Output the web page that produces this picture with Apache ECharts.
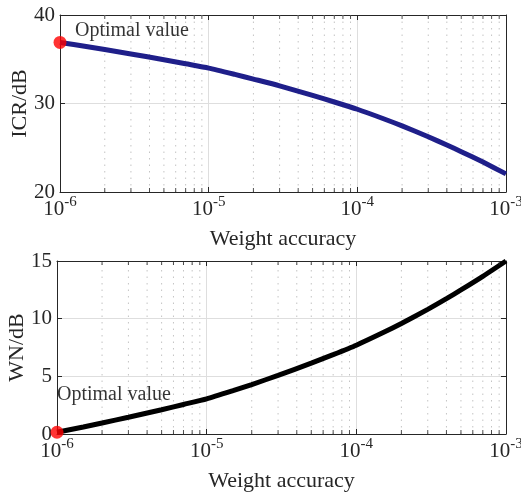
<!DOCTYPE html>
<html><head><meta charset="utf-8">
<script src="https://cdn.jsdelivr.net/npm/echarts@6/dist/echarts.min.js"></script>
<style>html,body{margin:0;padding:0;background:#fff}#c{width:521px;height:497px}</style>
</head><body><div id="c"></div>
<script>
// ---- data ----
const accuracy = [1e-6,1.5e-6,2e-6,3e-6,5e-6,7e-6,1e-5,1.5e-5,2e-5,3e-5,5e-5,7e-5,1e-4,1.5e-4,2e-4,3e-4,4e-4,5e-4,7e-4,1e-3];
const icrDb = [36.9,36.44,36.1,35.6,34.95,34.49,34.0,33.29,32.76,32.0,30.91,30.17,29.35,28.28,27.47,26.24,25.31,24.56,23.38,22.05];
const wnDb  = [0.15,0.61,0.95,1.45,2.10,2.56,3.05,3.76,4.29,5.08,6.14,6.88,7.7,8.77,9.58,10.81,11.74,12.49,13.67,15.0];
const optimalX = 1e-6;
const optimalIcr = 36.9;
const optimalWn = 0.15;
const optimalLabel = 'Optimal value';
const xRange = [1e-6, 1e-3];
const icrTicks = [20, 30, 40];
const wnTicks = [0, 5, 10, 15];
const minorX = [2e-6,3e-6,4e-6,5e-6,6e-6,7e-6,8e-6,9e-6,
                2e-5,3e-5,4e-5,5e-5,6e-5,7e-5,8e-5,9e-5,
                2e-4,3e-4,4e-4,5e-4,6e-4,7e-4,8e-4,9e-4];
const xName = 'Weight accuracy';
const icrName = 'ICR/dB';
const wnName = 'WN/dB';

// ---- styling ----
const FONT = 'Liberation Serif';
const AX = '#262626';
const GRIDC = '#dedede';

function xLabel(v) {
  const e = Math.round(Math.log10(v));
  return '{b|10}{s|' + e + '}';
}
const richX = {
  b: {fontFamily: FONT, fontSize: 21, color: AX, lineHeight: 22, verticalAlign: 'bottom'},
  s: {fontFamily: FONT, fontSize: 15, color: AX, lineHeight: 15, padding: [0,0,10,0], verticalAlign: 'bottom'}
};

function mkX(gi, isBottom) {
  return {
    type: 'log', logBase: 10, gridIndex: gi, min: xRange[0], max: xRange[1],
    position: isBottom ? 'bottom' : 'top',
    name: isBottom ? xName : '', nameLocation: 'middle', nameGap: 36,
    nameTextStyle: {fontFamily: FONT, fontSize: 22, color: AX},
    axisLine: {show: true, onZero: false, lineStyle: {color: AX, width: 1}},
    axisTick: {show: true, inside: true, length: 5, lineStyle: {color: AX}},
    axisLabel: {show: isBottom, formatter: xLabel, rich: richX, margin: 6},
    splitLine: {show: isBottom, lineStyle: {color: GRIDC, width: 1}}
  };
}
function mkY(gi, isLeft, ticks, name) {
  const iv = ticks[1] - ticks[0];
  return {
    type: 'value', gridIndex: gi, min: ticks[0], max: ticks[ticks.length-1], interval: iv,
    position: isLeft ? 'left' : 'right',
    name: isLeft ? name : '', nameLocation: 'middle', nameGap: 29, nameRotate: 90,
    nameMoveOverlap: false,
    nameTextStyle: {fontFamily: FONT, fontSize: 22, color: AX},
    axisLine: {show: true, onZero: false, lineStyle: {color: AX, width: 1}},
    axisTick: {show: true, inside: true, length: 5, lineStyle: {color: AX}},
    axisLabel: {show: isLeft, fontFamily: FONT, fontSize: 21, color: AX, margin: 5},
    splitLine: {show: isLeft, lineStyle: {color: GRIDC, width: 1}}
  };
}
// dotted minor grid lines at 2..9 x 10^k, drawn as broken vertical segments
function minorGridSeries(xi, yi, ticks) {
  const lo = ticks[0], hi = ticks[ticks.length-1];
  const d = [];
  minorX.forEach(v => { d.push([v, lo]); d.push([v, hi]); d.push([v, '-']); });
  return {
    type: 'line', xAxisIndex: xi, yAxisIndex: yi, silent: true, z: 1,
    showSymbol: false, connectNulls: false,
    lineStyle: {color: '#c4c4c4', width: 1, type: [1.5, 5]},
    data: d
  };
}
function minorTickSeries(xi, yi, yVal, dir) {
  return {
    type: 'scatter', xAxisIndex: xi, yAxisIndex: yi, silent: true, z: 4,
    symbol: 'rect', symbolSize: [1, 4], symbolOffset: [0, dir * 2],
    itemStyle: {color: AX}, clip: false,
    data: minorX.map(v => [v, yVal])
  };
}

const chart = echarts.init(document.getElementById('c'), null, {renderer: 'canvas'});
chart.setOption({
  animation: false,
  backgroundColor: '#fff',
  grid: [
    {left: 60, top: 15, width: 446, height: 177, show: false, containLabel: false, outerBoundsMode: 'none'},
    {left: 57, top: 261, width: 449, height: 173, show: false, containLabel: false, outerBoundsMode: 'none'}
  ],
  xAxis: [mkX(0, true), mkX(0, false), mkX(1, true), mkX(1, false)],
  yAxis: [mkY(0, true, icrTicks, icrName), mkY(0, false, icrTicks, ''),
          mkY(1, true, wnTicks, wnName), mkY(1, false, wnTicks, '')],
  series: [
    minorGridSeries(0, 0, icrTicks),
    minorGridSeries(2, 2, wnTicks),
    minorTickSeries(0, 0, icrTicks[0], -1),
    minorTickSeries(0, 0, icrTicks[icrTicks.length-1], 1),
    minorTickSeries(2, 2, wnTicks[0], -1),
    minorTickSeries(2, 2, wnTicks[wnTicks.length-1], 1),
    {
      type: 'line', xAxisIndex: 0, yAxisIndex: 0, z: 3, showSymbol: false, smooth: 0.2,
      lineStyle: {color: '#1f1f8a', width: 5},
      data: accuracy.map((x, i) => [x, icrDb[i]])
    },
    {
      type: 'line', xAxisIndex: 2, yAxisIndex: 2, z: 3, showSymbol: false, smooth: 0.2,
      lineStyle: {color: '#000000', width: 5},
      data: accuracy.map((x, i) => [x, wnDb[i]])
    },
    {
      type: 'scatter', xAxisIndex: 0, yAxisIndex: 0, z: 5, clip: false,
      symbol: 'circle', symbolSize: 13, itemStyle: {color: '#ff0000'},
      label: {show: true, position: 'inside', align: 'left', verticalAlign: 'middle',
              offset: [15, -12], formatter: optimalLabel,
              fontFamily: FONT, fontSize: 20, color: '#000'},
      data: [[optimalX, optimalIcr]]
    },
    {
      type: 'scatter', xAxisIndex: 2, yAxisIndex: 2, z: 5, clip: false,
      symbol: 'circle', symbolSize: 13, itemStyle: {color: '#ff0000'},
      label: {show: true, position: 'inside', align: 'left', verticalAlign: 'middle',
              offset: [0, -38], formatter: optimalLabel,
              fontFamily: FONT, fontSize: 20, color: '#000'},
      data: [[optimalX, optimalWn]]
    }
  ]
});
</script>
</body></html>
